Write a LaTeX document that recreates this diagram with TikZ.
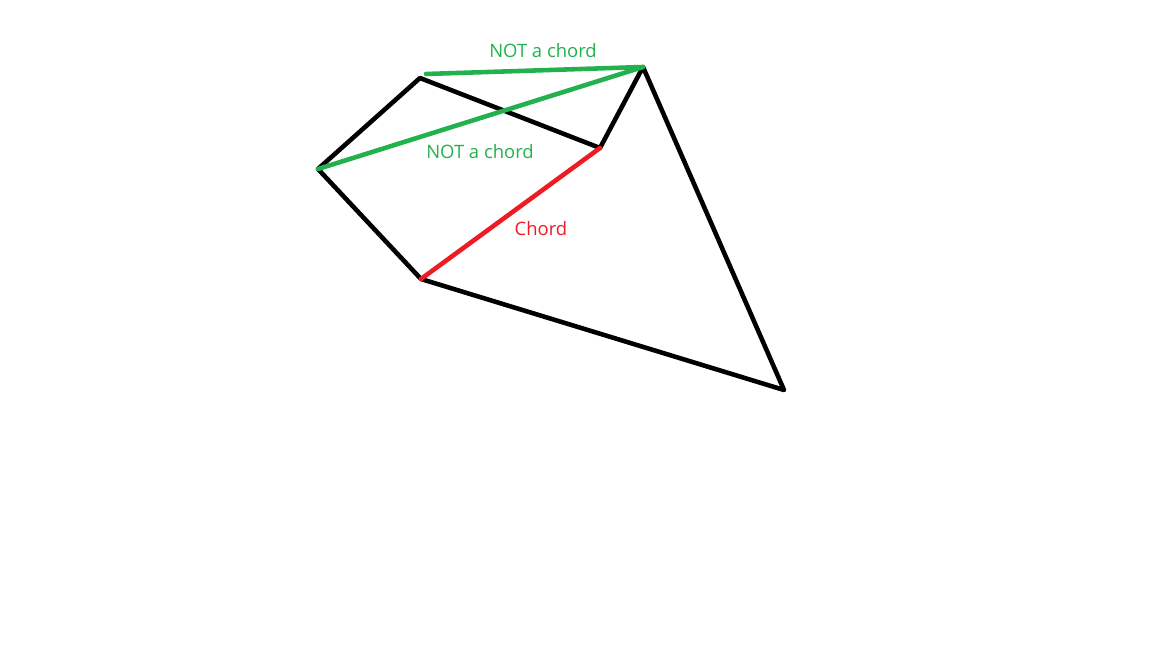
\documentclass[tikz,border=0pt]{standalone}
\usepackage{fontspec}
\setmainfont{Open Sans}
\usepackage{tikz}
\usetikzlibrary{positioning}
\usepackage{xcolor}
\definecolor{paintgreen}{HTML}{22B14C}
\definecolor{paintred}{HTML}{ED1C24}

\begin{document}
\begin{tikzpicture}[
  x=0.02cm, y=-0.02cm,
  side/.style={line width=2.6pt, black, line cap=round, line join=round},
  chord/.style={line width=2.6pt, paintred, line cap=round},
  notchord/.style={line width=2.6pt, paintgreen, line cap=round},
  lbl/.style={font=\fontsize{10.5}{12}\selectfont, inner sep=0pt},
]
  \useasboundingbox (0,0) rectangle (1152,648);
  \coordinate (a) at (420,78);
  \coordinate (a2) at (426,74);
  \coordinate (b) at (600,148);
  \coordinate (c) at (643,67);
  \coordinate (d) at (784,390);
  \coordinate (e) at (421,279);
  \coordinate (f) at (318,169);

  \draw[side] (f) -- (a) -- (b) -- (c) -- (d) -- (e) -- cycle;
  \draw[notchord] (a2) -- (c);
  \draw[notchord] (f) -- (c);
  \draw[chord] (e) -- (b);

  \node[lbl, text=paintgreen] (top) at (543,51) {NOT a chord};
  \node[lbl, text=paintgreen] (mid) at (480,152) {NOT a chord};
  \node[lbl, text=paintred] (ch) at (541,229) {Chord};
\end{tikzpicture}
\end{document}
